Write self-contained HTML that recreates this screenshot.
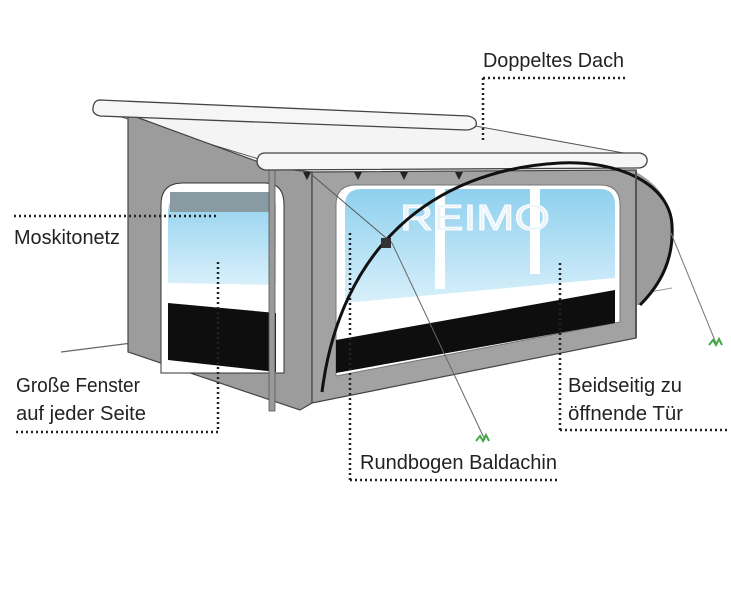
<!DOCTYPE html>
<html><head><meta charset="utf-8"><style>
html,body{margin:0;padding:0;background:#fff;width:731px;height:600px;overflow:hidden}
svg{display:block}
text{font-family:"Liberation Sans",sans-serif;font-size:20px;fill:#222}
</style></head><body>
<svg width="731" height="600" viewBox="0 0 731 600" xmlns="http://www.w3.org/2000/svg">
<defs>
<linearGradient id="bl" x1="0" y1="0" x2="0" y2="1"><stop offset="0" stop-color="#8fd0ee"/><stop offset="1" stop-color="#d8f0fb"/></linearGradient>
</defs>
<!-- ground lines -->
<line x1="61" y1="352" x2="132" y2="343" stroke="#666" stroke-width="1.2"/>
<line x1="650" y1="292" x2="672" y2="288" stroke="#999" stroke-width="1"/>
<!-- roof -->
<polygon points="105,112 470,125 640,156 262,160" fill="#f4f4f4" stroke="#555" stroke-width="1"/>
<!-- left wall -->
<polygon points="128,114 275,168 312,172 312,403 300,410 128,352" fill="#9c9c9c" stroke="#444" stroke-width="1.2"/>
<!-- left window frame -->
<path d="M161,373 L161,205 Q161,183 183,183 L265,183 Q284,183 284,205 L284,373 Z" fill="#fff" stroke="#333" stroke-width="1"/>
<path d="M168,210 Q170,192 185,192 L265,192 Q276,192 276,208 L276,285 L168,283 Z" fill="url(#bl)"/>
<rect x="170" y="192" width="105" height="20" fill="#8a9aa2"/>
<polygon points="168,303 276,313 276,372 168,360" fill="#0e0e0e"/>
<!-- front wall -->
<polygon points="312,172 636,170 636,338 312,403" fill="#a2a2a2" stroke="#444" stroke-width="1.2"/>
<path d="M336,376 L336,205 Q336,185 356,185 L600,185 Q620,185 620,205 L620,322 Z" fill="#fff" stroke="#777" stroke-width="1"/>
<path d="M345,303 L345,205 Q345,189 362,189 L600,189 Q615,189 615,205 L615,278 Z" fill="url(#bl)"/>
<rect x="435" y="189" width="10" height="100" fill="#fff"/>
<rect x="530" y="189" width="10" height="85" fill="#fff"/>
<polygon points="336,340 615,290 615,323 336,373" fill="#0e0e0e"/>
<text x="400" y="230" style="font-size:36px;fill:#e8f4fa;stroke:#fff;stroke-width:1" textLength="150" lengthAdjust="spacingAndGlyphs">REIMO</text>
<!-- front pole -->
<rect x="269" y="168" width="6" height="243" fill="#9a9a9a" stroke="#555" stroke-width="0.8"/>
<!-- awning rollers -->
<path d="M100,100 L468,116 Q478,118 476,126 Q472,130 466,130 L100,116 Q92,114 93,108 Q94,100 100,100 Z" fill="#f6f6f6" stroke="#444" stroke-width="1.3"/>
<path d="M265,153 L640,153 Q648,155 647,162 Q645,168 638,168 L265,170 Q257,168 257,161 Q258,153 265,153 Z" fill="#f6f6f6" stroke="#444" stroke-width="1.3"/>
<g fill="#222"><polygon points="303,172 311,172 307,180"/><polygon points="354,172 362,172 358,180"/><polygon points="400,172 408,172 404,180"/><polygon points="455,172 463,172 459,180"/></g>
<!-- arch -->
<path d="M636,172 C660,185 672,205 672,225 C672,260 660,285 640,305 L636,305 Z" fill="#9c9c9c"/>
<path d="M322,392 C340,250 430,170 560,163 C620,160 670,185 672,225 C674,260 660,285 640,305" fill="none" stroke="#111" stroke-width="3"/>
<line x1="636" y1="170" x2="636" y2="338" stroke="#555" stroke-width="2"/>
<!-- guy lines -->
<line x1="312" y1="175" x2="392" y2="243" stroke="#555" stroke-width="1"/>
<rect x="381" y="238" width="10" height="10" fill="#333"/>
<line x1="392" y1="243" x2="485" y2="440" stroke="#666" stroke-width="1"/>
<line x1="671" y1="233" x2="716" y2="343" stroke="#777" stroke-width="1"/>
<path d="M476,441 l4,-5 l3,5 l3,-6 l3,6" stroke="#4a4" fill="none" stroke-width="2"/>
<path d="M709,345 l4,-5 l3,5 l3,-6 l3,6" stroke="#4a4" fill="none" stroke-width="2"/>
<!-- callouts -->
<g stroke="#222" stroke-width="2.5" stroke-dasharray="2,3" fill="none">
<path d="M483,78 H626 M483,78 V140"/>
<path d="M14,216 H218"/>
<path d="M16,432 H218 V262"/>
<path d="M350,480 H557 M350,480 V230"/>
<path d="M560,430 H727 M560,430 V262"/>
</g>
<g>
<text x="483" y="67" textLength="141" lengthAdjust="spacingAndGlyphs">Doppeltes Dach</text>
<text x="14" y="244" textLength="106" lengthAdjust="spacingAndGlyphs">Moskitonetz</text>
<text x="16" y="392" textLength="124" lengthAdjust="spacingAndGlyphs">Große Fenster</text>
<text x="16" y="420" textLength="130" lengthAdjust="spacingAndGlyphs">auf jeder Seite</text>
<text x="360" y="469" textLength="197" lengthAdjust="spacingAndGlyphs">Rundbogen Baldachin</text>
<text x="568" y="392" textLength="114" lengthAdjust="spacingAndGlyphs">Beidseitig zu</text>
<text x="568" y="420" textLength="115" lengthAdjust="spacingAndGlyphs">öffnende Tür</text>
</g>
</svg>
</body></html>
